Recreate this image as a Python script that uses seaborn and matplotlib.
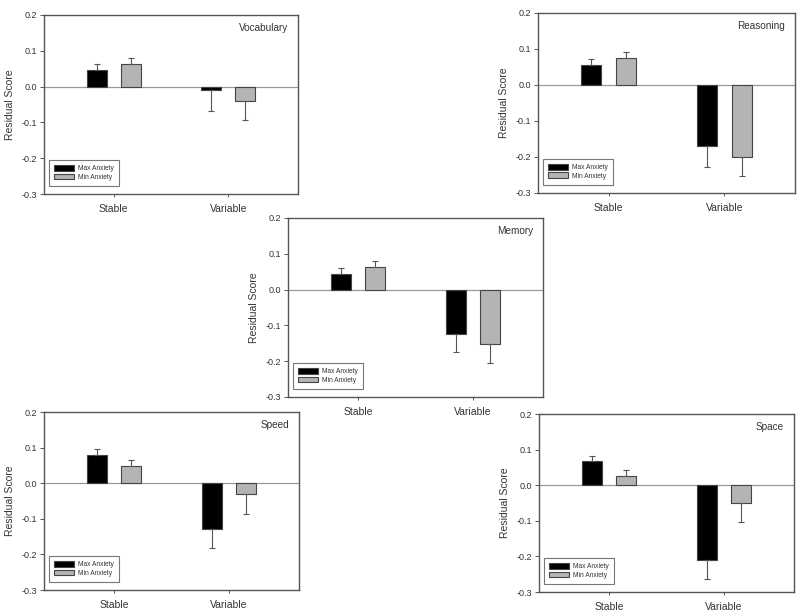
import matplotlib
matplotlib.use("Agg")
import matplotlib.pyplot as plt
import seaborn as sns
import pandas as pd

sns.set_theme(style="white")
plt.rcParams['font.family'] = ['Liberation Sans', 'DejaVu Sans']

categories = ["Stable", "Variable"]
groups = ["Max Anxiety", "Min Anxiety"]
yticks = [0.2, 0.1, 0.0, -0.1, -0.2, -0.3]

vocab_max = [0.046, -0.010]
vocab_max_err = [0.016, 0.057]
vocab_min = [0.062, -0.041]
vocab_min_err = [0.018, 0.053]

reason_max = [0.056, -0.170]
reason_max_err = [0.016, 0.058]
reason_min = [0.074, -0.200]
reason_min_err = [0.017, 0.054]

memory_max = [0.044, -0.123]
memory_max_err = [0.016, 0.052]
memory_min = [0.064, -0.152]
memory_min_err = [0.017, 0.053]

speed_max = [0.079, -0.128]
speed_max_err = [0.016, 0.055]
speed_min = [0.049, -0.030]
speed_min_err = [0.015, 0.056]

space_max = [0.067, -0.211]
space_max_err = [0.016, 0.052]
space_min = [0.027, -0.050]
space_min_err = [0.015, 0.054]

panels = [
    ("Vocabulary", vocab_max, vocab_max_err, vocab_min, vocab_min_err, (44, 15, 298, 194)),
    ("Reasoning", reason_max, reason_max_err, reason_min, reason_min_err, (538, 13, 795, 193)),
    ("Memory", memory_max, memory_max_err, memory_min, memory_min_err, (288, 218, 543, 397)),
    ("Speed", speed_max, speed_max_err, speed_min, speed_min_err, (44, 412, 299, 590)),
    ("Space", space_max, space_max_err, space_min, space_min_err, (539, 414, 794, 592)),
]

W, H = 800, 616
fig = plt.figure(figsize=(W / 100, H / 100), dpi=100)
fig.patch.set_facecolor("white")

frame_col = "#555555"
text_col = "#333333"
colors = ["#000000", "#b4b4b4"]

for title, mx, mxe, mn, mne, (x0, y0, x1, y1) in panels:
    ax = fig.add_axes([x0 / W, 1 - y1 / H, (x1 - x0) / W, (y1 - y0) / H])
    df = pd.DataFrame({
        "cond": categories * 2,
        "group": [groups[0]] * 2 + [groups[1]] * 2,
        "score": mx + mn,
        "err": mxe + mne,
    })
    sns.barplot(data=df, x="cond", y="score", hue="group", hue_order=groups,
                order=categories, palette=colors, width=0.6, gap=0.42,
                errorbar=None, edgecolor="#444444", linewidth=0.8, ax=ax,
                saturation=1)
    # one-sided error bars
    bars = [p for p in ax.patches if p.get_width() > 0]
    for gi, g in enumerate(groups):
        sub = df[df["group"] == g]
        for ci, c in enumerate(categories):
            row = sub[sub["cond"] == c].iloc[0]
            bar = bars[gi * len(categories) + ci]
            xc = bar.get_x() + bar.get_width() / 2
            v = row["score"]
            e = row["err"]
            if v >= 0:
                yerr = [[0], [e]]
            else:
                yerr = [[e], [0]]
            ax.errorbar([xc], [v], yerr=yerr, fmt="none", ecolor="#555555",
                        elinewidth=0.8, capsize=2.5, capthick=0.8, zorder=1)
    ax.axhline(0, color="#999999", linewidth=0.9, zorder=0.5)
    ax.set_ylim(-0.3, 0.2)
    ax.set_xlim(-0.61, 1.61)
    ax.set_yticks(yticks)
    ax.set_yticklabels([f"{t:.1f}" for t in yticks], fontsize=6.5, color=text_col)
    ax.set_xticks([0, 1])
    ax.set_xticklabels(categories, fontsize=7.5, color=text_col)
    ax.tick_params(axis="y", direction="out", length=3, width=0.7, color=frame_col, pad=2, left=True)
    ax.tick_params(axis="x", direction="out", length=2, width=0.7, color=frame_col, pad=5, bottom=True)
    ax.set_xlabel("")
    ax.set_ylabel("Residual Score", fontsize=7.5, color=text_col, labelpad=5)
    for s in ax.spines.values():
        s.set_color(frame_col)
        s.set_linewidth(1.0)
        s.set_visible(True)
    ax.text(0.96, 0.927, title, transform=ax.transAxes, ha="right", va="center",
            fontsize=7.2, color=text_col)
    leg = ax.legend(loc="lower left", bbox_to_anchor=(0.02, 0.045), fontsize=4.8,
                    frameon=True, fancybox=False, edgecolor=frame_col,
                    handlelength=3.0, handleheight=0.9, borderpad=0.8,
                    labelspacing=0.2, handletextpad=0.5, borderaxespad=0)
    leg.get_frame().set_linewidth(0.8)
    for t in leg.get_texts():
        t.set_color(text_col)

fig.savefig("out.png", dpi=100, facecolor="white")
